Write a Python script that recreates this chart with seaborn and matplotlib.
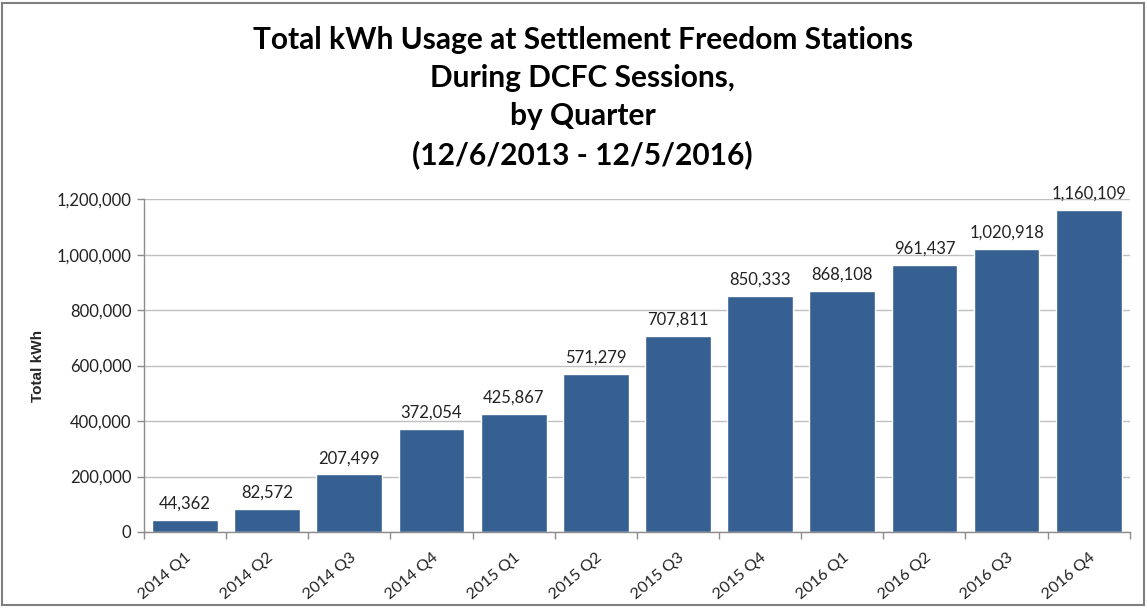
import numpy as np
import pandas as pd
import matplotlib
matplotlib.use('Agg')
import matplotlib.pyplot as plt
import seaborn as sns
from matplotlib.ticker import FuncFormatter, FixedLocator
from matplotlib.patches import Rectangle

quarters = ['2014 Q1', '2014 Q2', '2014 Q3', '2014 Q4',
            '2015 Q1', '2015 Q2', '2015 Q3', '2015 Q4',
            '2016 Q1', '2016 Q2', '2016 Q3', '2016 Q4']
kwh = [44362, 82572, 207499, 372054, 425867, 571279,
       707811, 850333, 868108, 961437, 1020918, 1160109]

df = pd.DataFrame({'quarter': quarters, 'kwh': kwh})

sns.set_style('white')
plt.rcParams['font.family'] = ['Lato', 'DejaVu Sans']

fig = plt.figure(figsize=(11.47, 6.11), dpi=100)
ax = fig.add_axes([0.1255, 0.1293, 0.8595, 0.5447])

sns.barplot(data=df, x='quarter', y='kwh', color='#366092', width=0.8,
            saturation=1, ax=ax)

#==================================================
# ejes
#==================================================
ax.set_ylim(0, 1200000)
ax.set_xlim(-0.5, len(quarters) - 0.5)
ax.set_yticks(np.arange(0, 1200001, 200000))
ax.yaxis.set_major_formatter(FuncFormatter(lambda v, p: f'{int(v):,}'))
ax.grid(axis='y', color='#bfbfbf', linewidth=1)
ax.set_axisbelow(True)
for s in ['top', 'right']:
    ax.spines[s].set_visible(False)
for s in ['left', 'bottom']:
    ax.spines[s].set_color('#8c8c8c')
    ax.spines[s].set_linewidth(1)

ax.tick_params(axis='y', labelsize=12, colors='#8c8c8c', length=5, width=1,
               labelcolor='#222222', left=True, pad=4)
ax.tick_params(axis='x', which='major', length=0, labelsize=11.5, pad=13,
               labelcolor='#222222')
ax.xaxis.set_minor_locator(FixedLocator(np.arange(-0.5, len(quarters), 1)))
ax.tick_params(axis='x', which='minor', length=5, width=1, colors='#8c8c8c',
               bottom=True)
plt.setp(ax.get_xticklabels(), rotation=40, ha='right', rotation_mode='anchor')

ax.set_xlabel('')
ax.set_ylabel('Total kWh', fontsize=11, fontweight='bold', labelpad=8,
              family=['Liberation Sans', 'DejaVu Sans'])

#==================================================
# etiquetas de datos
#==================================================
for i, v in enumerate(kwh):
    ax.text(i, v + 30000, f'{v:,}', ha='center', va='bottom', fontsize=12,
            color='#222222')

#==================================================
# titulo
#==================================================
fig.text(0.508, 0.957,
         'Total kWh Usage at Settlement Freedom Stations\nDuring DCFC Sessions,\nby Quarter\n(12/6/2013 - 12/5/2016)',
         ha='center', va='top', fontsize=21.5, fontweight='bold',
         linespacing=1.43, color='black')

fig.patches.append(Rectangle((0.002, 0.01), 0.995, 0.985, transform=fig.transFigure,
                             fill=False, edgecolor='#7f7f7f', linewidth=1.5))

fig.savefig('out.png', dpi=100)
